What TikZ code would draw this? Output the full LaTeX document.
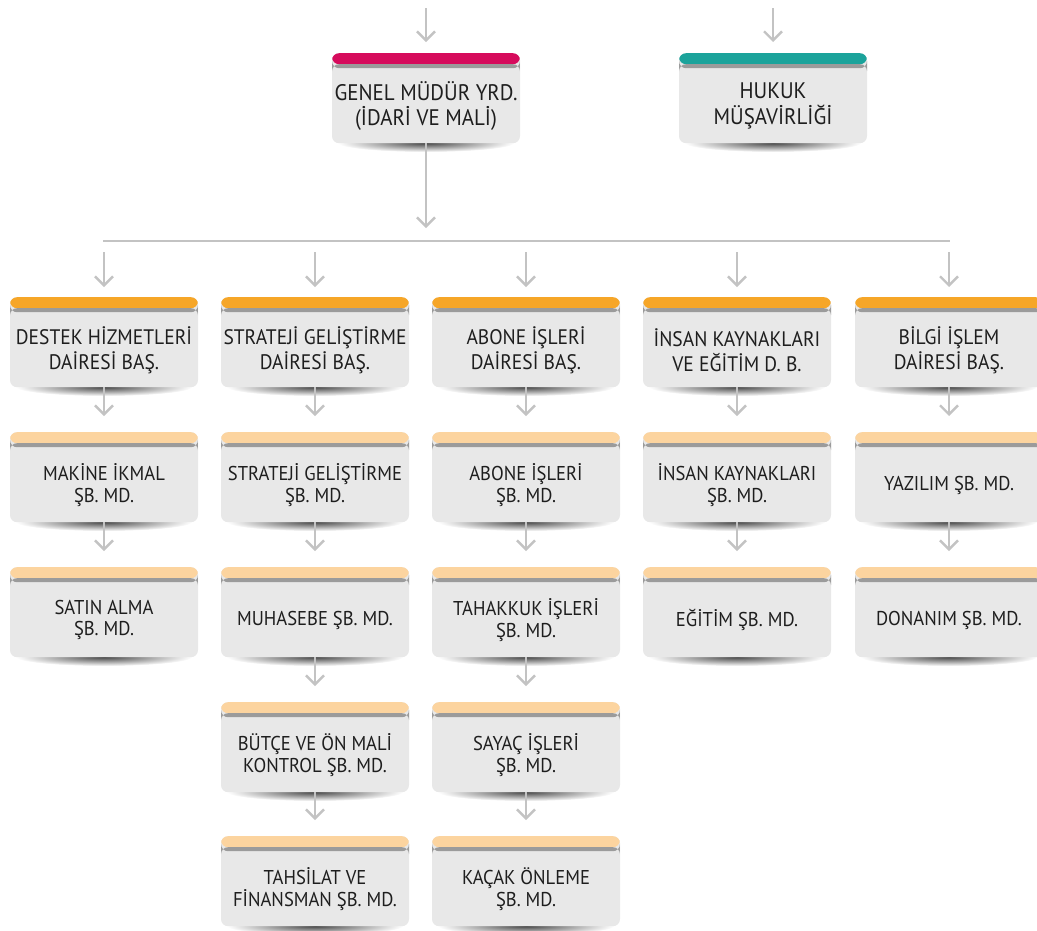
\documentclass[tikz,border=0pt]{standalone}
\usepackage{fontspec}
\setmainfont[FakeStretch=0.93]{PT Sans}
\usetikzlibrary{arrows.meta}
\definecolor{magentac}{HTML}{D60B5C}
\definecolor{tealc}{HTML}{1BA39B}
\definecolor{orangec}{HTML}{F6A628}
\definecolor{lorangec}{HTML}{FCD49F}
\definecolor{bandgray}{HTML}{9B9B9B}
\definecolor{bodygray}{HTML}{E8E8E8}
\definecolor{arrowgray}{HTML}{C3C3C3}
\definecolor{txtc}{HTML}{1E1E1E}
\tikzset{
  orgbox/.style={minimum width=188pt, minimum height=90pt, inner sep=0pt,
    rounded corners=7pt, fill=bodygray, anchor=north,
    path picture={
      \fill[#1] ([yshift=2pt]path picture bounding box.north west) rectangle ([yshift=-11pt]path picture bounding box.north east);
      \fill[bandgray] ([yshift=-11pt]path picture bounding box.north west) rectangle ([yshift=-15pt]path picture bounding box.north east);}},
  toptxt/.style={font=\fontsize{22.5}{25.5}\selectfont, align=center, text=txtc, inner sep=0pt},
  bigtxt/.style={font=\fontsize{21}{25.5}\selectfont, align=center, text=txtc, inner sep=0pt},
  smalltxt/.style={font=\fontsize{20}{21.5}\selectfont, align=center, text=txtc, inner sep=0pt},
  conn/.style={draw=arrowgray, line width=2.4pt, -{Straight Barb[length=9pt,width=18pt]}},
  plainconn/.style={draw=arrowgray, line width=2.4pt},
}
\newcommand\OrgBox[6]{%
  \shade[inner color=black!72, outer color=white] (#2,#3+90) ellipse (88pt and 9pt);
  \node[orgbox=#4] (#1) at (#2,#3) {};
  \node[#5] (#1t) at ([yshift=-8pt]#1.center) {#6};
}
\begin{document}
\begin{tikzpicture}[x=1pt,y=-1pt]
\useasboundingbox (0,0) rectangle (1037,930);
% top boxes
\OrgBox{gmy}{426}{53}{magentac}{toptxt}{GENEL MÜDÜR YRD.\\(İDARİ VE MALİ)}
\OrgBox{huk}{773}{53}{tealc}{toptxt}{HUKUK\\MÜŞAVİRLİĞİ}
% row 1
\OrgBox{d1}{104}{297}{orangec}{bigtxt}{DESTEK HİZMETLERİ\\DAİRESİ BAŞ.}
\OrgBox{d2}{315}{297}{orangec}{bigtxt}{STRATEJİ GELİŞTİRME\\DAİRESİ BAŞ.}
\OrgBox{d3}{526}{297}{orangec}{bigtxt}{ABONE İŞLERİ\\DAİRESİ BAŞ.}
\OrgBox{d4}{737}{297}{orangec}{bigtxt}{İNSAN KAYNAKLARI\\VE EĞİTİM D. B.}
\OrgBox{d5}{949}{297}{orangec}{bigtxt}{BİLGİ İŞLEM\\DAİRESİ BAŞ.}
% row 2
\OrgBox{m1}{104}{432}{lorangec}{smalltxt}{MAKİNE İKMAL\\ŞB. MD.}
\OrgBox{m2}{315}{432}{lorangec}{smalltxt}{STRATEJİ GELİŞTİRME\\ŞB. MD.}
\OrgBox{m3}{526}{432}{lorangec}{smalltxt}{ABONE İŞLERİ\\ŞB. MD.}
\OrgBox{m4}{737}{432}{lorangec}{smalltxt}{İNSAN KAYNAKLARI\\ŞB. MD.}
\OrgBox{m5}{949}{432}{lorangec}{smalltxt}{YAZILIM ŞB. MD.}
% row 3
\OrgBox{s1}{104}{567}{lorangec}{smalltxt}{SATIN ALMA\\ŞB. MD.}
\OrgBox{s2}{315}{567}{lorangec}{smalltxt}{MUHASEBE ŞB. MD.}
\OrgBox{s3}{526}{567}{lorangec}{smalltxt}{TAHAKKUK İŞLERİ\\ŞB. MD.}
\OrgBox{s4}{737}{567}{lorangec}{smalltxt}{EĞİTİM ŞB. MD.}
\OrgBox{s5}{949}{567}{lorangec}{smalltxt}{DONANIM ŞB. MD.}
% row 4
\OrgBox{b2}{315}{702}{lorangec}{smalltxt}{BÜTÇE VE ÖN MALİ\\KONTROL ŞB. MD.}
\OrgBox{b3}{526}{702}{lorangec}{smalltxt}{SAYAÇ İŞLERİ\\ŞB. MD.}
% row 5
\OrgBox{t2}{315}{836}{lorangec}{smalltxt}{TAHSİLAT VE\\FİNANSMAN ŞB. MD.}
\OrgBox{t3}{526}{836}{lorangec}{smalltxt}{KAÇAK ÖNLEME\\ŞB. MD.}
% connectors
\coordinate (ina) at (426,8);
\coordinate (inb) at (773,8);
\draw[conn, shorten >=11pt] (ina) -- (gmy.north);
\draw[conn, shorten >=11pt] (inb) -- (huk.north);
\coordinate (jn) at (426,241);
\coordinate (hl) at (103,241);
\coordinate (hr) at (950,241);
\draw[conn, shorten >=13pt] (gmy.south) -- (jn);
\draw[plainconn] (hl) -- (hr);
\foreach \n/\x in {1/104,2/315,3/526,4/737,5/949}{
  \coordinate (c\n) at (\x,241);
  \draw[conn, shorten <=11pt, shorten >=10pt] (c\n) -- (d\n.north);
  \draw[conn, shorten >=16pt] (d\n.south) -- (m\n.north);
  \draw[conn, shorten >=16pt] (m\n.south) -- (s\n.north);
}
\foreach \n in {2,3}{
  \draw[conn, shorten >=16pt] (s\n.south) -- (b\n.north);
  \draw[conn, shorten >=16pt] (b\n.south) -- (t\n.north);
}
\end{tikzpicture}
\end{document}
